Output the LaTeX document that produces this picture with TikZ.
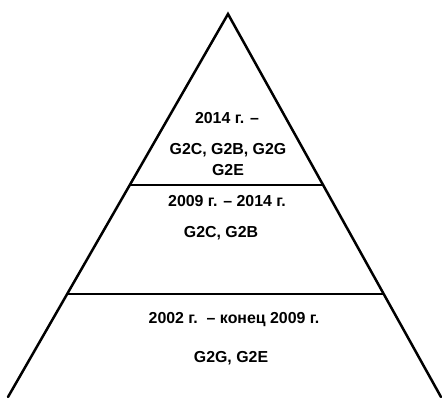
\documentclass[tikz,border=0pt]{standalone}
\usepackage{fontspec}
\setmainfont{Liberation Sans}
\usetikzlibrary{calc}
\begin{document}
\begin{tikzpicture}[x=1pt,y=-1pt,
  edge/.style={draw=black,line width=2.5pt,line cap=round,line join=miter},
  lbl/.style={font=\fontsize{15.9}{19}\selectfont\bfseries,inner sep=0pt,anchor=center}]
\useasboundingbox (0,0) rectangle (442,397);
\coordinate (apex) at (228,14);
\coordinate (bl) at (8,397);
\coordinate (br) at (441,397);
\coordinate (l1) at ($(apex)!0.4465!(bl)$);
\coordinate (r1) at ($(apex)!0.4465!(br)$);
\coordinate (l2) at ($(apex)!0.7311!(bl)$);
\coordinate (r2) at ($(apex)!0.7311!(br)$);
\draw[edge] (bl) -- (apex) -- (br);
\draw[edge,line cap=butt] (l1) -- (r1);
\draw[edge,line cap=butt] (l2) -- (r2);
\node[lbl] (t1) at (227,118) {2014 г. –};
\node[lbl] (t2) at (228,150) {G2C, G2B, G2G};
\node[lbl] (t3) at (228,170) {G2E};
\node[lbl] (t4) at (227,201) {2009 г. – 2014 г.};
\node[lbl] (t5) at (221,233) {G2C, G2B};
\node[lbl] (t6) at (234,320) {2002 г.\ \ – конец 2009 г.};
\node[lbl] (t7) at (231,358) {G2G, G2E};
\end{tikzpicture}
\end{document}
